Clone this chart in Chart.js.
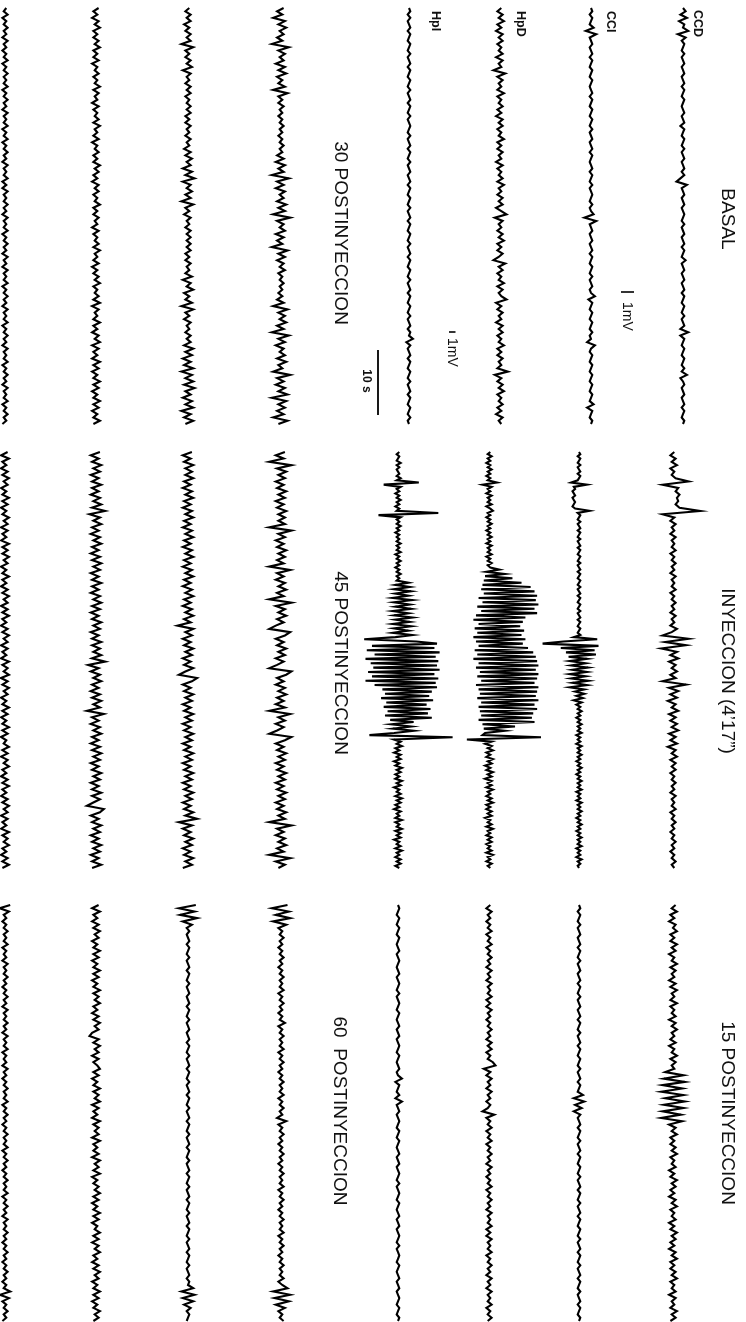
<!DOCTYPE html>
<html>
<head>
<meta charset="utf-8">
<title>EEG postinyeccion</title>
<script src="https://cdn.jsdelivr.net/npm/chart.js@4/dist/chart.umd.min.js"></script>
<style>
  html, body { margin: 0; padding: 0; background: #fff; }
  #wrap { width: 746px; height: 1322px; }
</style>
</head>
<body>
<div id="wrap"><canvas id="eeg" width="746" height="1322"></canvas></div>
<script>
const channels = ["CCD", "CCI", "HpD", "HpI"];
const upperTitles = ["BASAL", "INYECCION (4’17”)", "15 POSTINYECCION"];
const lowerTitles = ["30 POSTINYECCION", "45 POSTINYECCION", "60  POSTINYECCION"];

// 64 s per trace (128 samples -> 0.5 s step, 192 -> 1/3 s)
// cortex (CCD, CCI) in tenths of mV, hippocampus (HpD, HpI) in fifths of mV
const basalCCD = [0,2,-2,3,-3,1,0,4,-4,2, -1,1,0,-1,1,-1,0,1,-1,0, 1,-1,0,1,-1,1,0,-1,1,0, -1,0,1,-1,0,1,-2,1,0,-1, 1,0,-1,1,-1,0,1,-1,0,1, -1,1,-2,-5,3,-1,0,1,-1,0, 1,-1,0,1,0,-1,1,-1,0,1, -1,0,1,-1,1,0,-1,2,-1,0, 1,-1,0,1,-1,0,1,-1,1,0, -1,1,0,-1,1,-1,0,1,-2,4, -2,1,0,-1,1,0,-1,1,0,-1, 1,-1,3,-2,0,1,-1,0,1,-1, 0,1,-1,1,0,-1,1,0];
const basalCCI = [0,1,-1,1,0,-1,2,-4,4,-1, 0,1,-1,0,1,-1,1,0,-1,1, 0,-1,1,0,-1,0,1,-1,1,0, -1,1,0,-1,1,0,-1,1,-1,0, 1,-1,0,1,-1,1,0,-1,0,1, -1,1,0,-1,1,-1,0,1,0,-1, 1,-1,0,2,-5,4,-1,0,1,-1, 0,1,-1,0,1,-1,1,0,-1,1, 0,-1,1,-1,0,1,-1,0,3,-2, 1,0,-1,1,0,-1,1,0,-1,1, -1,0,-3,3,0,-1,1,0,-1,1, 0,-1,1,0,-1,1,0,-1,1,0, -1,2,-3,1,0,-1,1,0];
const basalHpD = [1,-2,2,-1,3,-2,1,-3,2,-1, 2,-2,1,-1,2,-3,2,-1,1,-5, 4,-2,2,-1,1,-2,3,-2,1,-1, 2,-2,1,-3,2,-1,2,-2,1,-1, 3,-2,1,-2,2,-1,1,-3,2,-2, 1,-1,2,-2,3,-1,1,-2,2,-1, 2,-3,1,5,-4,2,-1,1,-2,2, -1,3,-2,1,-2,2,-1,-5,4,-1, 2,-2,1,-1,3,-2,2,-1,1,5, -3,1,-2,2,-1,1,-3,2,-1,2, -2,1,-1,3,-2,1,-2,2,-1,1, -2,6,-4,1,-2,2,-1,3,-2,1, -1,2,-2,1,-3,2,-1,1];
const basalHpI = [0,1,-1,1,-1,0,1,-1,1,0, -1,1,0,-1,1,-1,0,1,-1,1, 0,-1,1,0,-1,1,-1,0,1,-1, 1,0,-1,1,-1,0,1,0,-1,1, -1,0,1,-1,1,0,-1,1,-1,0, 1,-1,0,1,-1,1,0,-1,1,0, -1,1,-1,0,1,-1,1,0,-1,1, 0,-1,1,-1,0,1,-1,1,0,-1, 1,0,-1,1,-1,0,1,-1,1,0, -1,1,0,-1,1,-1,0,1,-1,1, 0,3,-2,1,-1,0,1,-1,1,0, -1,1,0,-1,1,-1,0,1,-1,1, 0,-1,1,0,-1,1,-1,0];

const inyCCD = [1,-2,2,-1,3,-2,1,-1,2,12, -8,4,2,5,3,4,2,5,21,-8, 1,-2,2,-1,1,-2,2,-1,1,-1, 2,-2,1,-1,2,-1,1,-2,2,-1, 1,-1,2,-2,1,-1,2,-1,1,-2, 2,-1,1,-2,3,-1,-8,12,-6,10, -9,3,-2,4,-3,2,-1,3,-2,2, -8,10,-3,4,-2,3,-4,2,-1,4, -3,2,-2,3,-1,4,-3,2,-2,3, -4,2,-1,3,-2,2,-1,2,-2,1, -1,2,-1,1,-2,2,-1,1,-1,2, -2,1,-1,2,-1,1,-2,1,-1,2, -1,1,-2,1,-1,2,-1,1];
const inyCCI = [0,1,-1,1,0,-1,1,-1,0,1, -1,1,0,-1,-6,6,-4,-3,-5,-4, -3,-5,-4,-3,-4,-5,-3,8,-1,1, 0,-1,1,-1,0,1,-1,1,0,-1, 1,-1,0,1,-1,1,0,-1,1,0, -1,1,-1,0,1,-1,1,0,-1,1, 0,-1,1,-1,0,1,-1,1,0,-1, 1,0,-1,1,-1,0,1,-1,1,0, -1,1,0,-1,1,-4,14,-12,-28,15, -14,12,-10,13,-8,6,-7,5,-6,7, -5,6,-7,5,-6,7,-5,6,-7,4, -3,4,-2,3,-4,2,-2,1,-1,2, -1,1,-2,1,-1,2,-1,1,-1,2, -2,1,-1,1,-2,2,-1,1,-1,2, -1,1,-2,1,-1,2,-1,1,-2,1, -1,2,-1,1,-1,2,-2,1,-1,1, -2,2,-1,1,-1,2,-1,1,-2,1, -1,2,-1,1,-2,1,-1,2,-1,1, -1,2,-2,1,-1,1,-2,2,-1,1, -1,0];
const inyHpD = [1,-1,2,-1,1,-2,1,-1,2,-1, 1,-2,1,-1,6,-5,2,-1,1,-2, 2,-1,1,-1,2,-2,1,3,-1,1, -2,1,-1,2,-1,1,-2,1,-1,2, -1,1,-2,2,-1,1,-1,2,-2,1, -1,2,-1,1,8,-2,12,-3,18,-4, 25,-5,32,-6,35,-4,37,-8,36,-5, 38,-9,35,-6,37,-10,28,-12,26,-8, 24,-11,27,-9,25,-12,28,-10,26,-8, 30,-11,34,-9,36,-12,37,-8,38,-10, 36,-7,38,-9,37,-6,35,-10,38,-8, 37,-7,36,-9,38,-6,35,-8,37,-7, 34,-6,33,-8,35,-5,20,-4,12,-3, -5,40,-17,2,-3,2,-1,3,-2,1, -2,3,-1,2,-3,1,-2,3,-1,2, -3,2,-1,2,-2,3,-1,1,-2,2, -1,3,-2,1,-2,2,-1,2,-3,1, -1,2,-2,3,-1,1,-2,2,-1,2, -2,1,-1,2,-2,3,-1,1,-2,2, -1,1];
const inyHpI = [1,-1,1,0,-1,2,-1,1,-1,0, 1,-1,2,-1,16,-11,2,-1,1,-2, 1,-1,2,-1,1,-2,1,-1,31,-15, 2,-1,1,-1,2,-1,1,-2,1,-1, 1,-1,2,-1,1,-1,2,-2,1,-1, 2,-1,1,-2,1,-1,2,-1,1,-1, 8,-2,9,-3,10,-2,8,-4,11,-3, 9,-2,10,-4,8,-3,11,-2,9,-4, 10,-3,8,-4,11,-2,-26,14,30,-20, 28,-24,32,-18,29,-25,31,-21,30,-19, 32,-23,28,-20,31,-25,29,-18,30,-12, 26,-10,24,-13,27,-9,22,-11,25,-8, 23,-10,26,-6,12,-5,10,-4,12,-3, -22,42,-3,2,-1,3,-2,1,-3,2, -1,2,-3,1,-2,3,-1,2,-2,1, -2,3,-1,2,-3,1,-1,2,-2,3, -1,2,-2,1,-3,2,-1,1,-2,3, -2,1,-1,3,-2,2,-1,2,-3,1, -1,2,-2,3,-1,1,-2,2,-1,2, -2,1];

const post15CCD = [2,-1,3,-2,1,-3,2,0,3,-2, 1,-2,3,-1,2,-3,1,-1,3,-2, 2,-1,1,-3,2,-2,3,-1,1,-2, 3,-2,1,-1,2,-3,2,-1,3,-1, 1,-2,2,-3,1,-1,3,-2,2,-1, 1,-6,8,-7,9,-8,7,-9,8,-6, 9,-7,8,-8,6,-9,7,-3,2,-1, 3,-2,1,-2,2,-1,3,-2,1,-1, 2,-3,1,-2,3,-1,2,-2,1,-3, 2,-1,3,-2,1,-1,2,-3,1,-2, 3,-1,2,-2,1,-3,2,-1,3,-2, 1,-2,2,-1,3,-2,1,-1,2,-3, 2,-1,1,-2,3,-1,2,-2];
const post15CCI = [0,1,-1,1,0,-1,1,-1,0,1, -1,0,1,-1,1,0,-1,1,-1,0, 1,-1,0,1,-1,1,0,-1,1,-1, 0,1,-1,0,1,-1,1,0,-1,1, -1,0,1,-1,1,0,-1,1,0,-1, 1,-1,0,1,-1,1,0,-1,3,-4, 4,-3,2,-4,1,-1,0,1,-1,1, 0,-1,1,-1,0,1,-1,1,0,-1, 1,0,-1,1,-1,0,1,-1,1,0, -1,1,-1,0,1,-1,1,0,-1,1, 0,-1,1,-1,0,1,-1,1,0,-1, 1,-1,0,1,-1,1,0,-1,1,-1, 0,1,-1,1,0,-1,1,0];
const post15HpD = [1,-2,2,-1,1,-2,1,-1,2,-2, 1,-1,2,-2,1,-1,2,-1,1,-2, 2,-1,1,-2,2,-1,1,-1,2,-2, 1,-2,2,-1,1,-2,1,-1,2,-1, 1,-2,2,-1,2,-2,1,-1,3,5, -4,1,-2,2,-1,1,-2,2,-1,1, -2,1,-1,-5,4,-2,1,-1,2,-2, 1,-1,2,-2,1,-1,2,-1,1,-2, 2,-1,1,-2,1,-1,2,-2,1,-1, 2,-1,1,-2,2,-1,1,-1,2,-2, 1,-2,2,-1,1,-1,2,-2,1,-1, 2,-1,1,-2,2,-1,1,-2,2,-1, 1,-1,2,-2,1,-1,2,-1];
const post15HpI = [0,1,0,-1,1,0,-1,1,0,-1, 1,0,-1,0,1,-1,0,1,0,-1, 0,1,-1,0,1,0,-1,1,-1,0, 1,0,-1,1,0,-1,0,1,-1,0, 1,-1,0,1,0,-1,1,0,-1,0, 1,-1,0,3,-2,1,0,-1,1,-2, 3,-1,0,1,-1,0,1,0,-1,1, 0,-1,1,0,-1,0,1,-1,0,1, -1,0,1,0,-1,1,-1,0,1,0, -1,1,0,-1,0,1,-1,0,1,-1, 0,1,0,-1,1,-1,0,1,0,-1, 1,0,-1,0,1,-1,0,1,-1,0, 1,0,-1,1,0,-1,1,0];

const post30CCD = [2,-3,1,-6,3,-2,4,-1,2,-3, 1,-7,6,-2,3,-1,2,-4,3,-2, 4,-3,1,-2,3,-6,5,-2,1,-2, 2,-1,1,-2,1,-1,2,-1,1,-2, 1,-1,2,-1,1,-3,2,-4,3,-2, 2,-7,6,-3,2,-4,3,-1,2,-3, 4,-2,3,-6,7,-3,2,-1,3,-4, 2,-3,1,-7,5,-2,3,-3,2,-1, 3,-2,1,-1,2,-1,1,-2,1,-3, 2,-6,5,-2,3,-1,4,-3,2,-7, 6,-2,3,-4,2,-1,3,-3,4,-2, 1,-6,7,-3,2,-4,3,-2,5,-7, 4,-2,3,-3,2,-6,5,-2];
const post30CCI = [1,-2,2,-1,2,-3,1,-2,2,-1, 2,-5,4,-2,1,-2,2,-1,3,-4, 2,-1,1,-2,2,-1,2,-2,1,-1, 2,-1,2,-2,1,-2,2,-1,1,-2, 2,-1,1,-3,2,-2,3,-1,2,-4, 3,-2,5,-4,2,-1,3,-2,2,-5, 4,-2,1,-3,2,-1,1,-2,2,-1, 2,-1,2,-1,2,-2,1,-2,2,-1, 1,-2,3,-4,2,-1,4,-3,1,-2, 3,-5,4,-2,1,-3,2,-1,1,-2, 2,-1,2,-3,4,-2,3,-4,2,-3, 4,-5,3,-2,4,-3,5,-2,2,-4, 3,-2,4,-5,2,-3,4,-2];
const post30HpD = [2,-2,1,-3,2,-1,3,-2,1,-2, 2,-1,3,-2,1,-2,2,-3,1,-1, 2,-2,1,-1,3,-2,2,-1,1,-3, 2,-2,1,-1,2,-2,3,-1,1,-2, 2,-3,1,-1,2,-2,1,-2,3,-1, 2,-2,1,-3,2,-1,2,-2,1,-1, 3,-2,1,-2,2,-1,1,-3,2,-2, 1,-1,2,-2,3,-1,1,-2,2,-3, 1,-2,2,-1,3,-2,1,-1,2,-2, 3,-3,2,-1,1,-2,3,-2,1,-3, 2,-1,3,-3,2,-2,1,-3,3,-2, 2,-3,1,-2,3,-2,2,-3,1,-2, 3,-2,2,-3,1,-2,3,-2];
const post30HpI = [1,-1,2,-2,1,-1,2,-1,1,-2, 2,-1,1,-2,1,-1,2,-2,1,-1, 2,-1,1,-1,2,-2,1,-1,2,-1, 1,-2,2,-1,1,-1,2,-2,1,-1, 2,-2,1,-1,2,-1,1,-2,2,-1, 1,-1,2,-2,1,-2,2,-1,1,-1, 2,-1,1,-2,2,-1,1,-1,2,-2, 1,-1,2,-1,1,-2,2,-1,1,-2, 2,-1,1,-1,2,-2,1,-1,2,-1, 1,-2,2,-1,1,-1,2,-2,1,-1, 2,-1,1,-2,2,-1,1,-1,2,-2, 1,-1,2,-1,1,-2,2,-1,1,-1, 2,-2,1,-1,2,-1,1,-2];

const post45CCD = [3,-4,2,-9,8,-3,4,-2,3,-4, 2,-3,4,-2,3,-4,2,-3,4,-2, 3,-2,3,-9,8,-2,3,-4,2,-3, 4,-2,3,-3,2,-9,7,-3,2,-4, 3,-2,4,-3,2,-9,8,-4,3,-2, 4,-3,2,-4,-9,7,3,-4,2,-3, 4,-2,3,-4,2,-3,-9,8,4,-3, 2,-4,3,-2,4,-3,2,-4,3,-9, 7,-2,3,-4,2,-3,-9,8,3,-4, 2,-3,4,-2,3,-4,2,-3,4,-2, 3,-4,2,-3,4,-2,3,-4,2,-3, 4,-2,3,-9,8,-3,2,-4,3,-2, 4,-3,2,-9,7,-4,3,-2];
const post45CCI = [3,-4,2,-3,4,-2,3,-2,4,-3, 2,-4,3,-2,4,-3,2,-4,3,-2, 4,-3,2,-4,3,-2,4,-3,2,-4, 3,-2,4,-3,2,-4,3,-2,4,-3, 2,-4,3,-2,4,-3,2,-4,3,-2, 4,-3,2,-8,4,-2,3,-4,2,-3, 4,-2,3,-4,2,-3,4,-2,-7,7, 3,-4,2,-3,4,-2,3,-4,2,-3, 4,-2,3,-4,2,-3,4,-2,3,-4, 2,-3,4,-2,3,-4,2,-3,4,-2, 3,-4,2,-3,4,-2,3,-4,2,-3, 4,-2,7,-7,3,-4,2,-3,4,-2, 3,-4,2,-3,4,-2,3,-4];
const post45HpD = [3,-4,2,-3,4,-2,3,-4,2,-3, 4,-3,2,-4,3,-2,4,-3,7,-5, 3,-2,4,-3,2,-4,3,-2,4,-3, 2,-4,3,-3,4,-2,3,-4,2,-3, 4,-3,2,-4,3,-2,4,-3,3,-4, 2,-3,4,-2,3,-4,2,-3,4,-3, 3,-2,4,-3,7,-6,2,-4,3,-2, 4,-3,2,-4,3,-3,4,-2,3,-7, 6,-3,2,-4,3,-2,4,-3,2,-4, 3,-3,4,-2,3,-4,2,-3,4,-2, 3,-4,2,-3,4,-3,3,-2,-7,6, 3,-4,2,-3,4,-2,3,-4,2,-3, 4,-2,3,-4,2,-3,4,-3];
const post45HpI = [2,-3,3,-2,1,-3,2,-2,3,-1, 2,-3,1,-2,3,-2,2,-3,1,-2, 3,-1,2,-3,2,-2,1,-3,3,-2, 2,-2,3,-1,2,-3,1,-2,3,-2, 1,-3,2,-2,3,-1,2,-3,2,-2, 3,-2,1,-3,2,-2,3,-1,2,-3, 2,-2,1,-3,3,-2,2,-1,3,-3, 2,-2,3,-1,2,-3,1,-2,3,-2, 2,-3,1,-2,3,-2,2,-3,1,-1, 3,-2,2,-3,2,-1,3,-2,1,-3, 2,-2,3,-2,1,-3,2,-2,3,-1, 2,-3,2,-2,1,-3,3,-2,2,-1, 3,-2,1,-3,2,-2,3,-2];

const post60CCD = [5,-7,6,-4,7,-6,4,-2,1,-1, 2,-1,1,-2,1,-1,2,-1,1,-2, 1,-1,2,-1,1,-1,2,-2,1,-1, 2,-1,1,-2,1,-1,3,-2,1,-1, 2,-1,1,-1,2,-2,1,-1,2,-1, 1,-2,1,-1,2,-1,1,-1,2,-2, 1,-1,2,-1,1,-3,4,-2,1,-1, 2,-1,1,-2,1,-1,2,-1,1,-2, 1,-1,2,-1,1,-1,2,-2,1,-1, 2,-1,1,-2,1,-1,2,-1,1,-1, 2,-2,1,-1,2,-1,1,-2,1,-1, 2,-1,1,-1,2,-2,1,5,-6,7, -5,6,-4,3,-2,1,-1,2];
const post60CCI = [6,-7,5,-6,7,-4,3,-1,1,-1, 0,1,-1,1,0,-1,1,-1,0,1, -1,1,0,-1,1,-1,0,1,-1,0, 1,-1,1,0,-1,1,-1,0,1,-1, 0,1,-1,1,0,-1,1,-1,0,1, -1,1,0,-1,1,-1,0,1,-1,1, 0,-1,1,-1,0,1,-1,1,0,-1, 1,-1,0,1,-1,1,0,-1,1,-1, 0,1,-1,1,0,-1,1,-1,0,1, -1,1,0,-1,1,-1,0,1,-1,1, 0,-1,1,-1,0,1,-1,1,0,-1, 1,-1,0,1,-1,1,0,4,-5,5, -4,4,-3,2,-1,1,0,-1];
const post60HpD = [2,-3,3,-2,1,-3,2,-2,3,-1, 2,-3,1,-2,3,-2,2,-3,1,-2, 3,-2,2,-3,1,-2,3,-2,2,-1, 3,-2,1,-3,2,-2,3,-1,2,-3, -5,2,-2,3,-1,2,-3,2,-2,1, 3,-2,2,-3,1,-2,3,-2,2,-1, 3,-3,2,-2,1,-3,3,-2,2,-1, 2,-3,3,-2,1,-2,2,-3,3,-1, 2,-2,3,-3,1,-2,2,-1,3,-2, 2,-3,1,-2,3,-2,2,-3,1,-1, 3,-2,2,-3,2,-1,3,-2,1,-3, 2,-2,3,-1,2,-3,1,-2,3,-2, 2,-3,1,-2,3,-1,2,-2];
const post60HpI = [4,-4,3,-1,1,-2,1,-1,2,-1, 1,-1,2,-2,1,-1,1,-2,2,-1, 1,-1,2,-1,1,-2,1,-1,2,-1, 1,-2,2,-1,1,-1,2,-1,1,-2, 2,-1,1,-1,2,-2,1,-1,1,-2, 2,-1,1,-2,1,-1,2,-1,1,-1, 2,-2,1,-1,2,-1,1,-2,1,-1, 2,-1,1,-1,2,-2,1,-1,2,-1, 1,-2,1,-1,2,-1,1,-1,2,-2, 1,-1,2,-1,1,-2,2,-1,1,-1, 2,-1,1,-2,1,-1,2,-1,1,-2, 1,-1,2,-1,1,-2,1,-1,4,-4, 3,-2,1,-1,2,-1,1,-2];

// calibration bars
const barSeconds = 10;
const barMv = 1;

// page geometry (px); cortex gain twice the hippocampal one
const W = 746, H = 1322;
const PX_PER_MV_CX = 13;
const PX_PER_MV_HP = 6.5;
const PX_PER_S = 6.5;
const SEG_SECONDS = 64;
const segTopPx = [8, 452, 905];
const upperCols = [[683, 591, 500, 409], [673, 579, 489, 398], [673, 579, 489, 398]];
const lowerCols = [[281, 188, 96, 5], [281, 188, 96, 5], [281, 188, 96, 5]];

class EegFigure {
  constructor(canvasId) {
    this.canvas = document.getElementById(canvasId);
    this.upper = [
      [basalCCD, basalCCI, basalHpD, basalHpI],
      [inyCCD, inyCCI, inyHpD, inyHpI],
      [post15CCD, post15CCI, post15HpD, post15HpI]
    ];
    this.lower = [
      [post30CCD, post30CCI, post30HpD, post30HpI],
      [post45CCD, post45CCI, post45HpD, post45HpI],
      [post60CCD, post60CCI, post60HpD, post60HpI]
    ];
  }

  trace(values, colPx, topPx, hippo) {
    const dt = SEG_SECONDS / (values.length - 1);
    const x0 = colPx / (hippo ? PX_PER_MV_HP : PX_PER_MV_CX);
    const unit = hippo ? 0.2 : 0.1;
    const t0 = topPx / PX_PER_S;
    return values.map((v, i) => ({ x: x0 + v * unit, y: t0 + i * dt }));
  }

  buildDatasets() {
    const sets = [];
    const addRow = (row, cols) => {
      row.forEach((seg, s) => {
        seg.forEach((vals, c) => {
          const hippo = c >= 2;
          sets.push({
            label: channels[c],
            data: this.trace(vals, cols[s][c], segTopPx[s], hippo),
            xAxisID: hippo ? "xHp" : "x",
            showLine: true,
            borderColor: "#000",
            borderWidth: 2.1,
            pointRadius: 0
          });
        });
      });
    };
    addRow(this.upper, upperCols);
    addRow(this.lower, lowerCols);

    // 10 s bar along time, 1 mV bars across (one per gain)
    sets.push({
      data: [{ x: 378 / PX_PER_MV_CX, y: 350 / PX_PER_S }, { x: 378 / PX_PER_MV_CX, y: 350 / PX_PER_S + barSeconds }],
      showLine: true, borderColor: "#000", borderWidth: 1.8, pointRadius: 0
    });
    sets.push({
      data: [{ x: 621 / PX_PER_MV_CX, y: 292 / PX_PER_S }, { x: 621 / PX_PER_MV_CX + barMv, y: 292 / PX_PER_S }],
      showLine: true, borderColor: "#000", borderWidth: 1.6, pointRadius: 0
    });
    sets.push({
      xAxisID: "xHp",
      data: [{ x: 449 / PX_PER_MV_HP, y: 332 / PX_PER_S }, { x: 449 / PX_PER_MV_HP + barMv, y: 332 / PX_PER_S }],
      showLine: true, borderColor: "#000", borderWidth: 1.6, pointRadius: 0
    });
    return sets;
  }

  // all lettering runs top to bottom (rotated a quarter turn)
  textPlugin() {
    const sans = '"Liberation Sans", Arial, sans-serif';
    const items = [
      { s: upperTitles[0], x: 727, y: 219, font: "19px " + sans, align: "center" },
      { s: upperTitles[1], x: 727, y: 671, font: "19px " + sans, align: "center" },
      { s: upperTitles[2], x: 727, y: 1113, font: "19px " + sans, align: "center" },
      { s: lowerTitles[0], x: 340, y: 233, font: "19px " + sans, align: "center" },
      { s: lowerTitles[1], x: 340, y: 663, font: "19px " + sans, align: "center" },
      { s: lowerTitles[2], x: 339, y: 1111, font: "19px " + sans, align: "center" },
      { s: channels[0], x: 697, y: 10, font: "bold 12.5px " + sans, align: "left" },
      { s: channels[1], x: 610, y: 11, font: "bold 12.5px " + sans, align: "left" },
      { s: channels[2], x: 520, y: 11, font: "bold 12.5px " + sans, align: "left" },
      { s: channels[3], x: 435, y: 11, font: "bold 12.5px " + sans, align: "left" },
      { s: "1mV", x: 627, y: 302, font: "14px " + sans, align: "left" },
      { s: "1mV", x: 452, y: 338, font: "14px " + sans, align: "left" },
      { s: "10 s", x: 366, y: 381, font: "bold 12px " + sans, align: "center" }
    ];
    return {
      id: "rotatedText",
      afterDatasetsDraw(chart) {
        const ctx = chart.ctx;
        items.forEach(t => {
          ctx.save();
          ctx.translate(t.x, t.y);
          ctx.rotate(Math.PI / 2);
          ctx.font = t.font;
          ctx.fillStyle = "#111";
          ctx.textAlign = t.align;
          ctx.textBaseline = "middle";
          ctx.fillText(t.s, 0, 0);
          ctx.restore();
        });
      }
    };
  }

  render() {
    this.chart = new Chart(this.canvas.getContext("2d"), {
      type: "scatter",
      data: { datasets: this.buildDatasets() },
      options: {
        responsive: false,
        animation: false,
        events: [],
        layout: { padding: 0 },
        plugins: { legend: { display: false }, tooltip: { enabled: false } },
        scales: {
          x: { type: "linear", min: 0, max: W / PX_PER_MV_CX, display: false },
          xHp: { type: "linear", axis: "x", position: "bottom", min: 0, max: W / PX_PER_MV_HP, display: false },
          y: { type: "linear", min: 0, max: H / PX_PER_S, reverse: true, display: false }
        }
      },
      plugins: [this.textPlugin()]
    });
  }
}

new EegFigure("eeg").render();
</script>
</body>
</html>
